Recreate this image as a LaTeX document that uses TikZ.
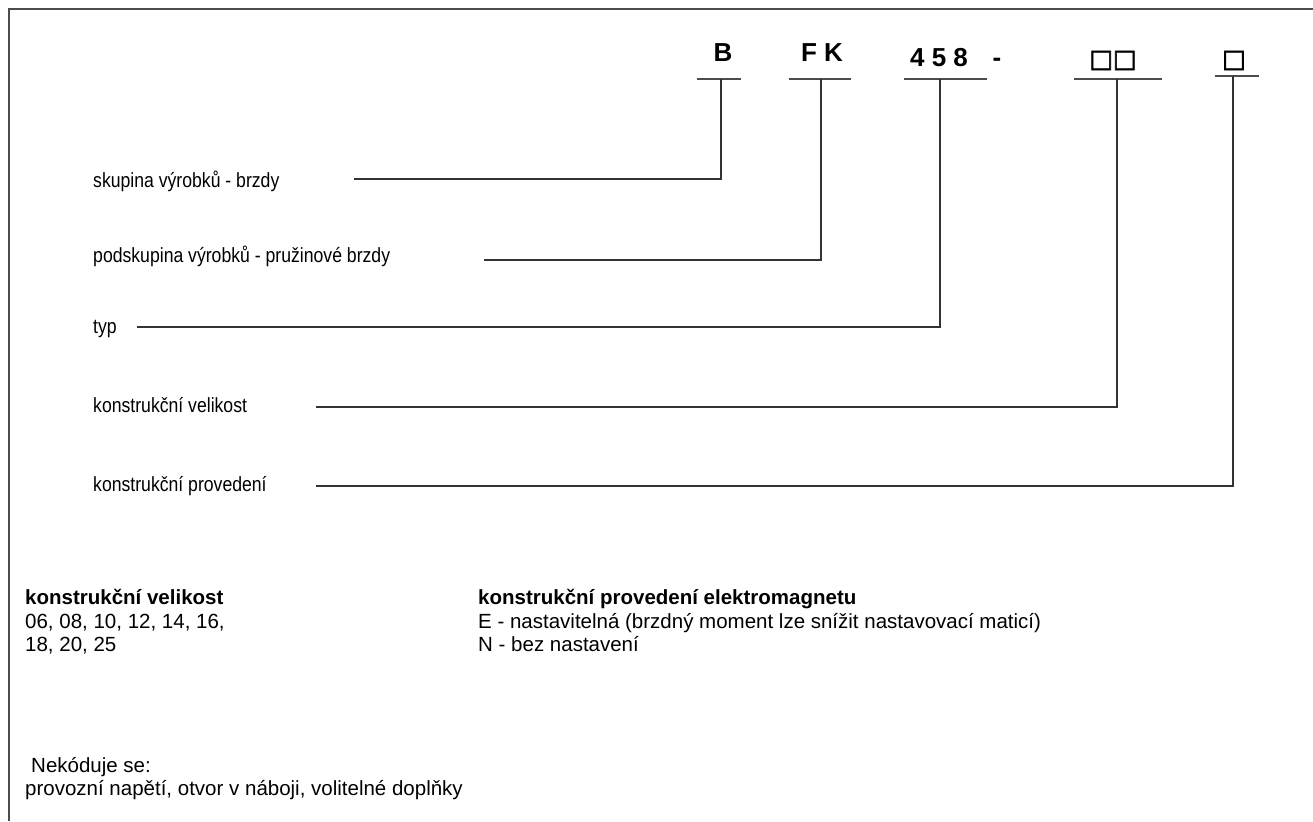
\documentclass[tikz,border=0pt]{standalone}
\usepackage{fontspec}
\setmainfont{Liberation Sans}
\newfontfamily\narrowfont{Liberation Sans}[FakeStretch=0.86]
\newfontfamily\boxfont{DejaVu Sans}[FakeBold=2.5]
\tikzset{
	code/.style={font=\fontsize{26}{30}\selectfont\bfseries, anchor=base, inner sep=0pt},
	boxcode/.style={font=\boxfont\fontsize{25}{30}\selectfont, anchor=base, inner sep=0pt},
	label/.style={font=\narrowfont\fontsize{20.5}{24}\selectfont, anchor=base west, inner sep=0pt},
	note/.style={font=\fontsize{20.5}{23.5}\selectfont, anchor=base west, inner sep=0pt},
	lead/.style={line width=1.3pt, black!80},
	under/.style={line width=1.5pt, black!70},
	frame/.style={line width=2pt, black!70}
}
\begin{document}
\begin{tikzpicture}[x=1pt,y=-1pt]
		\useasboundingbox (0,0) rectangle (1313,821);
		\draw[frame] (9,821) -- (9,9) -- (1313,9);
		
		% type code
		\node[code] (B) at (723,62) {B};
		\node[code] (FK) at (822,62) {F K};
		\node[code] (T) at (939,67) {4 5 8};
		\node[code] (D) at (997,67) {-};
		\node[boxcode] (S) at (1113,67) {□□};
		\node[boxcode] (P) at (1234,67) {□};
		
		\coordinate (uB) at (721,79);
		\coordinate (uFK) at (821,79);
		\coordinate (uT) at (940,79);
		\coordinate (uS) at (1117,79);
		\coordinate (uP) at (1233,76);
		
		\draw[under] (697,79) -- (741,79);
		\draw[under] (789,79) -- (851,79);
		\draw[under] (904,79) -- (987,79);
		\draw[under] (1074,79) -- (1162,79);
		\draw[under] (1215,76) -- (1259,76);
		
		% labels
		\node[label] (a) at (93,187) {skupina výrobků - brzdy};
		\node[label] (b) at (93,262) {podskupina výrobků - pružinové brzdy};
		\node[label] (c) at (93,333) {typ};
		\node[label] (d) at (93,412) {konstrukční velikost};
		\node[label] (e) at (93,491) {konstrukční provedení};
		
		\coordinate (la) at (354,179);
		\coordinate (lb) at (484,260);
		\coordinate (lc) at (137,327);
		\coordinate (ld) at (316,407);
		\coordinate (le) at (316,486);
		
		\draw[lead] (la) -| (uB);
		\draw[lead] (lb) -| (uFK);
		\draw[lead] (lc) -| (uT);
		\draw[lead] (ld) -| (uS);
		\draw[lead] (le) -| (uP);
		
		% legend
		\node[note,font=\fontsize{20.5}{23.5}\selectfont\bfseries] (hS) at (25,604) {konstrukční velikost};
		\node[note] (s1) at (25,628) {06, 08, 10, 12, 14, 16,};
		\node[note] (s2) at (25,651) {18, 20, 25};
		\node[note,font=\fontsize{20.5}{23.5}\selectfont\bfseries] (hP) at (478,604) {konstrukční provedení elektromagnetu};
		\node[note] (p1) at (478,628) {E - nastavitelná (brzdný moment lze snížit nastavovací maticí)};
		\node[note] (p2) at (478,651) {N - bez nastavení};
		
		\node[note] (n1) at (31,772) {Nekóduje se:};
		\node[note] (n2) at (25,795) {provozní napětí, otvor v náboji, volitelné doplňky};
\end{tikzpicture}
\end{document}
